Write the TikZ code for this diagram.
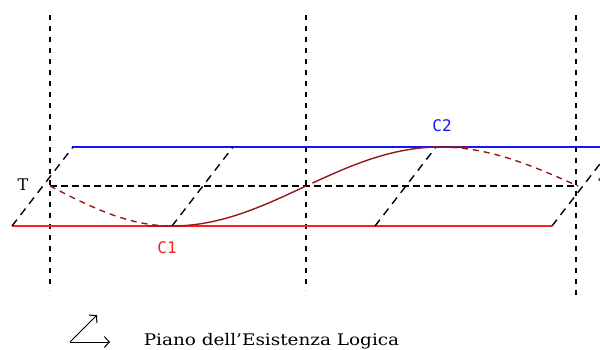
\documentclass[tikz,border=0pt]{standalone}
\usepackage{fontspec}
\setmainfont{DejaVu Serif}
\newfontfamily\labelfont{DejaVu Sans Mono}
\usetikzlibrary{arrows.meta}
\definecolor{curvered}{RGB}{150,25,25}
\definecolor{planered}{RGB}{255,30,30}
\definecolor{planeblue}{RGB}{20,20,255}

\begin{document}
\begin{tikzpicture}[x=1pt,y=-1pt,line width=1.4pt]
\useasboundingbox (0,0) rectangle (600,349);
% 竖直虚线
\foreach \xv/\yend in {50/290,306/290,576/295}
  \draw[line width=1.4pt,dash pattern=on 5pt off 6pt] (\xv,15) -- (\xv,\yend);
% 上方蓝线
\draw[planeblue] (72,147) -- (600,147);
% 中间黑色虚线
\draw[dash pattern=on 7pt off 4pt] (50,186) -- (578,186);
% 下方红线
\draw[planered] (12,226) -- (552,226);
% 斜虚线
\foreach \xb in {12,172,375,552}
  \draw[dash pattern=on 8pt off 6pt] (\xb,226) -- ++(61,-79);
% 曲线（后面的部分为虚线）
\draw[curvered,dash pattern=on 6pt off 5pt] (50,186) sin (172,226);
\draw[curvered] (147,226) -- (172,226) cos (306,186);
\draw[curvered,shorten <=7pt] (306,186) sin (440,147) -- (468,147);
\draw[curvered,dash pattern=on 6pt off 5pt] (440,147) cos (578,186);
% 标签
\node[font=\fontsize{16}{18}\selectfont] (tleft) at (23,185) {T};
\node[font=\fontsize{16}{18}\selectfont] (tright) at (604,185) {T};
\node[text=planered,font=\labelfont\fontsize{16}{18}\selectfont] (cuno) at (167,248) {C1};
\node[text=planeblue,font=\labelfont\fontsize{16}{18}\selectfont] (cdue) at (442,126) {C2};
% 坐标符号
\coordinate (orig) at (70,342);
\coordinate (diag) at (97,315);
\coordinate (oriz) at (110,342);
\draw[line width=1pt,-{Straight Barb[length=5pt,width=11pt]}] (orig) -- (diag);
\draw[line width=1pt,-{Straight Barb[length=5pt,width=11pt]}] (orig) -- (oriz);
% 说明文字
\node[anchor=base west,inner sep=0,xscale=1.15,font=\fontsize{16}{18}\selectfont] (piano) at (143,345) {Piano dell'Esistenza Logica};
\end{tikzpicture}
\end{document}
